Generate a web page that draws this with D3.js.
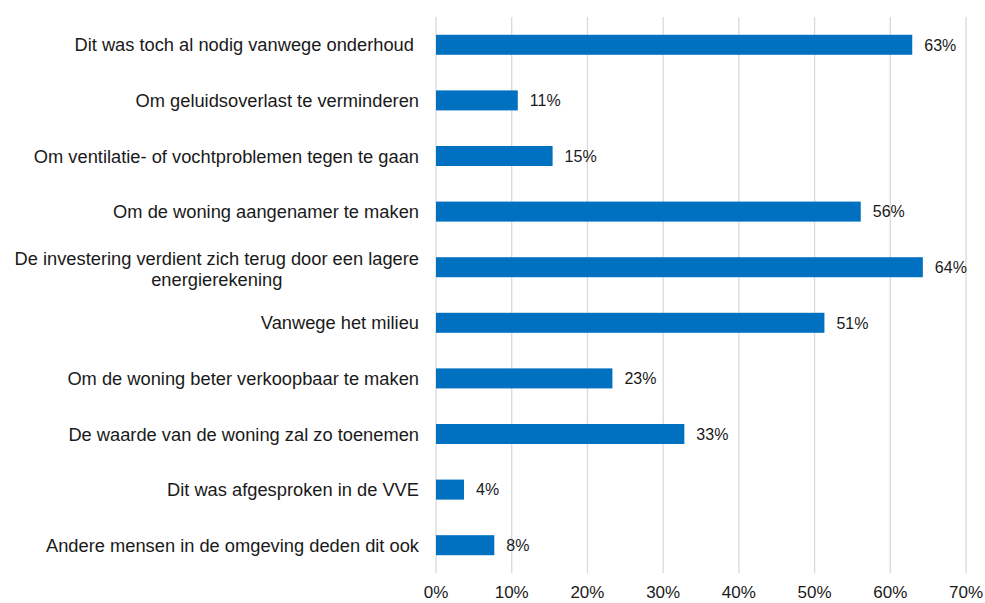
<!DOCTYPE html>
<html>
<head>
<meta charset="utf-8">
<script src="https://cdn.jsdelivr.net/npm/d3@7"></script>
<style>
  body { margin: 0; background: #fff; }
  text { font-family: Arial, "Liberation Sans", sans-serif; fill: #1a1a1a; white-space: pre; }
</style>
</head>
<body>
<div id="chart"><svg></svg></div>
<script>
const width = 985;
const height = 603;

// data
const categories = [
	"Dit was toch al nodig vanwege onderhoud ",
	"Om geluidsoverlast te verminderen",
	"Om ventilatie- of vochtproblemen tegen te gaan",
	"Om de woning aangenamer te maken",
	"De investering verdient zich terug door een lagere|energierekening",
	"Vanwege het milieu",
	"Om de woning beter verkoopbaar te maken",
	"De waarde van de woning zal zo toenemen",
	"Dit was afgesproken in de VVE",
	"Andere mensen in de omgeving deden dit ook"
];
const values = [62.9, 10.8, 15.4, 56.1, 64.3, 51.3, 23.3, 32.8, 3.7, 7.7];
const labels = ["63%", "11%", "15%", "56%", "64%", "51%", "23%", "33%", "4%", "8%"];
const ticks = [0, 10, 20, 30, 40, 50, 60, 70];

const margin = {top: 17, right: 19, bottom: 30, left: 436};

let svg = d3.select("#chart").select("svg")
			.attr("width", width)
			.attr("height", height);

let x = d3.scaleLinear()
			.domain([0, 70])
			.range([margin.left, width - margin.right]);

let y = d3.scaleBand()
			.domain(categories)
			.range([margin.top, height - margin.bottom])
			.paddingInner(0.64)
			.paddingOuter(0.32);

// gridlines
svg.append("g")
	.selectAll("line")
	.data(ticks)
	.join("line")
	.attr("x1", d=>x(d)).attr("x2", d=>x(d))
	.attr("y1", margin.top).attr("y2", height - margin.bottom)
	.attr("stroke", "#d9d9d9")
	.attr("stroke-width", 1.3);

// tick labels
svg.append("g")
	.selectAll("text")
	.data(ticks)
	.join("text")
	.attr("x", d=>x(d))
	.attr("y", 598)
	.attr("text-anchor", "middle")
	.style("font-size", "17px")
	.text(d=>d + "%");

// bars
svg.append("g")
	.selectAll("rect")
	.data(values)
	.join("rect")
	.attr("x", x(0))
	.attr("y", (d,i)=>y(categories[i]))
	.attr("width", d=>x(d) - x(0))
	.attr("height", y.bandwidth())
	.attr("fill", "#0070c0");

// value labels
svg.append("g")
	.selectAll("text")
	.data(values)
	.join("text")
	.attr("x", d=>x(d) + 12)
	.attr("y", (d,i)=>y(categories[i]) + y.bandwidth()/2)
	.attr("dy", "0.36em")
	.style("font-size", "16px")
	.text((d,i)=>labels[i]);

// category labels
let cats = svg.append("g")
	.selectAll("text")
	.data(categories)
	.join("text")
	.attr("y", d=>y(d) + y.bandwidth()/2)
	.style("font-size", "18.3px");

cats.each(function(d){
	let lines = d.split("|");
	let t = d3.select(this);
	let n = lines.length;
	lines.forEach((ln, j)=>{
		t.append("tspan")
			.attr("dy", j === 0 ? (n > 1 ? "-0.14em" : "0.36em") : "1.15em")
			.text(ln);
	});
	let spans = t.selectAll("tspan");
	let maxW = d3.max(spans.nodes(), s=>s.getComputedTextLength());
	let cx = 419 - maxW/2;
	spans.attr("x", cx).attr("text-anchor", "middle");
});
</script>
</body>
</html>
